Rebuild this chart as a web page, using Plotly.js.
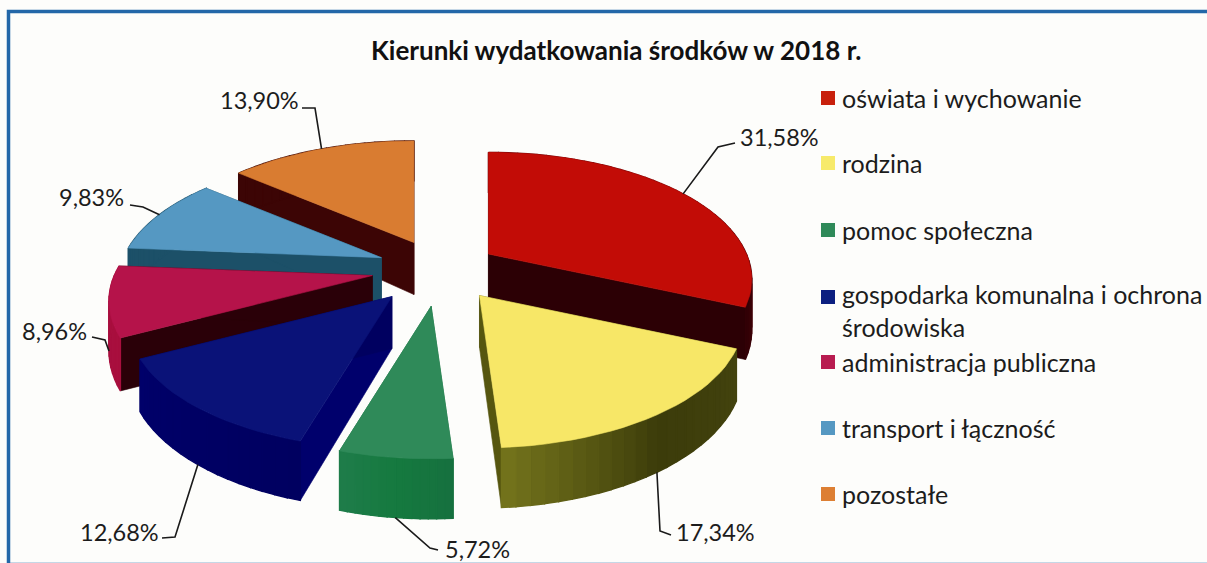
<!DOCTYPE html>
<html lang="pl">
<head>
<meta charset="utf-8">
<script src="https://cdn.plot.ly/plotly-3.0.1.min.js"></script>
<style>html,body{margin:0;padding:0;background:#fff}#chart{width:1207px;height:563px}</style>
</head>
<body>
<div id="chart"></div>
<script>
// ---- data ----
const categories = ['oświata i wychowanie','rodzina','pomoc społeczna',
  'gospodarka komunalna i ochrona<br>środowiska','administracja publiczna','transport i łączność','pozostałe'];
const shares = [31.58,17.34,5.72,12.68,8.96,9.83,13.90];

// ---- styles ----
const topColors = ['#c20c06','#f7e767','#2f8a59','#0a1278','#b5134a','#5598c2','#d97c31'];
const cutColors = [['#2c0005','#2c0005'],['#4e4e10','#56560f'],['#1a7242','#1a7242'],['#00006c','#000060'],
                   ['#2a0008','#2a0008'],['#1c5068','#1c5068'],['#3c0505','#3c0505']];
const rimStops  = [['#6e0a0a','#8a0a0a','#300006'],['#43430e','#3c3c0a','#74741c'],['#16703f','#157a3f','#1f7c4a'],
                   ['#000060','#000064','#00006a'],['#a80f3e','#a80f3e','#a80f3e'],['#1c5068','#1c5068','#1c5068'],['#3c0505','#3c0505','#3c0505']];
const pulls = [0.23,0.255,0.29,0.28,0.265,0.25,0.25];
const legendY = [98,163,230,297,362,428,494];
const labelPos = [[779,137],[715,532],[477,549],[119,532],[54,331],[91,197],[259,100]];
const leaderMid = [[[718,147],[735,143]],[[660,531],[671,535]],[[430,548],[438,550]],[[175,537],[162,538]],
                   [[105,340],[92,337]],[[143,207],[130,205]],[[315,108],[302,108]]];
const center = [440,269], RX = 258, RY = 122, K = 0.2, DEPTH = 52;
const font = 'Lato, Carlito, "Open Sans", sans-serif', ink = '#1c1c1c';

function proj(u,v){const d=1+K*v;return [RX*u/d,-RY*v/d];}
function dirOf(a){return [Math.sin(a),Math.cos(a)];}
function rimDepth(v){return 48/(1+K*v);}
function hex(c){return [1,3,5].map(i=>parseInt(c.substr(i,2),16));}
function mix(a,b,t){const A=hex(a),B=hex(b);return 'rgb('+A.map((x,i)=>Math.round(x+(B[i]-x)*t)).join(',')+')';}
function stop3(s,t){return t<0.5?mix(s[0],s[1],t*2):mix(s[1],s[2],(t-0.5)*2);}
function poly(pts,color,w){
  return {type:'scatter',mode:'lines',x:pts.map(p=>p[0]),y:pts.map(p=>p[1]),fill:'toself',fillcolor:color,
          line:{color:color,width:w||0.6},hoverinfo:'skip',showlegend:false};
}

const total = shares.reduce((a,b)=>a+b,0);
let acc = 0;
const slices = shares.map((s,i)=>{
  const a0=acc/total*2*Math.PI; acc+=s; const a1=acc/total*2*Math.PI;
  const am=(a0+a1)/2, d=dirOf(am), off=proj(d[0]*pulls[i],d[1]*pulls[i]);
  return {i,a0,a1,am,apex:[center[0]+off[0],center[1]+off[1]]};
});
function rimPt(sl,a,drop){
  const d=dirOf(a),p=proj(d[0],d[1]);
  return [sl.apex[0]+p[0],sl.apex[1]+p[1]+(drop?rimDepth(d[1]):0)];
}
function drawSlice(sl){
  const out=[],N=Math.max(14,Math.round((sl.a1-sl.a0)*22)),ang=[];
  for(let k=0;k<=N;k++)ang.push(sl.a0+(sl.a1-sl.a0)*k/N);
  const low=[sl.apex[0],sl.apex[1]+DEPTH];
  // cut faces
  out.push(poly([sl.apex,rimPt(sl,sl.a0,false),rimPt(sl,sl.a0,true),low,sl.apex],cutColors[sl.i][0]));
  out.push(poly([sl.apex,rimPt(sl,sl.a1,false),rimPt(sl,sl.a1,true),low,sl.apex],cutColors[sl.i][1]));
  // rim strips
  for(let k=0;k<N;k++){
    out.push(poly([rimPt(sl,ang[k],false),rimPt(sl,ang[k+1],false),rimPt(sl,ang[k+1],true),rimPt(sl,ang[k],true),rimPt(sl,ang[k],false)],
      stop3(rimStops[sl.i],(k+0.5)/N),1.4));
  }
  // top face
  out.push(poly([sl.apex].concat(ang.map(a=>rimPt(sl,a,false)),[sl.apex]),topColors[sl.i]));
  return out;
}
// painter's order: far slices first
const order=[6,5,0,4,3,1,2];
let traces=[];
order.forEach(i=>{traces=traces.concat(drawSlice(slices[i]));});

// leader lines, anchored on each slice's rim
const rimDropOn=[false,true,true,true,true,false,false];
slices.forEach(sl=>{
  const a=rimPt(sl,sl.am,rimDropOn[sl.i]);
  const pts=[a].concat(leaderMid[sl.i]);
  traces.push({type:'scatter',mode:'lines',x:pts.map(p=>p[0]),y:pts.map(p=>p[1]),
    line:{color:'#1a1a1a',width:1.6},hoverinfo:'skip',showlegend:false});
});
// legend swatches
traces.push({type:'scatter',mode:'markers',x:categories.map(()=>828),y:legendY,
  marker:{symbol:'square',size:14,color:['#c8200c','#f7ea6a','#2f8a59','#0c1f80','#b81c50','#5598c2','#dd7f33']},
  hoverinfo:'skip',showlegend:false});

const annotations=[];
annotations.push({xref:'x',yref:'y',x:616,y:50,text:'<b>Kierunki wydatkowania środków w 2018 r.</b>',showarrow:false,
  font:{family:font,size:26,color:'#111'}});
slices.forEach(sl=>{
  annotations.push({xref:'x',yref:'y',x:labelPos[sl.i][0],y:labelPos[sl.i][1],
    text:shares[sl.i].toFixed(2).replace('.',',')+'%',showarrow:false,font:{family:font,size:23.5,color:ink}});
});
categories.forEach((c,i)=>{
  const two=c.indexOf('<br>')>=0;
  annotations.push({xref:'x',yref:'y',x:840,y:legendY[i]+(two?13.5:0),xanchor:'left',align:'left',text:c,showarrow:false,
    font:{family:font,size:25,color:ink}});
});

const layout={
  width:1207,height:563,margin:{l:0,r:0,t:0,b:0},
  paper_bgcolor:'#fdfdfb',plot_bgcolor:'#fdfdfb',showlegend:false,
  xaxis:{range:[0,1207],visible:false,fixedrange:true},
  yaxis:{range:[563,0],visible:false,fixedrange:true},
  shapes:[{type:'rect',xref:'x',yref:'y',x0:8.5,y0:11.5,x1:1230,y1:564.5,line:{color:'#2367a8',width:3.5},layer:'below'}],
  annotations
};
Plotly.newPlot('chart',traces,layout,{displayModeBar:false,staticPlot:true});
</script>
</body>
</html>
